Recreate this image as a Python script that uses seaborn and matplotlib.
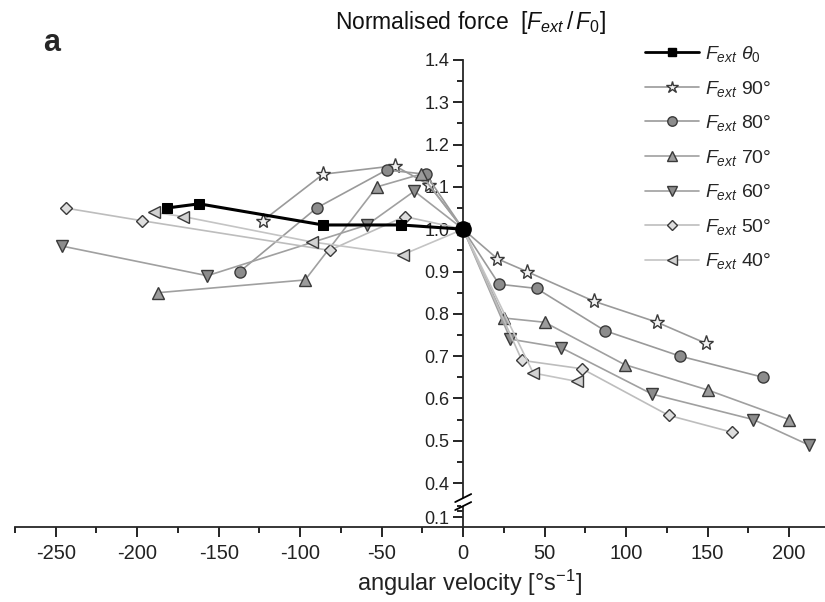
import numpy as np
import pandas as pd
import matplotlib
matplotlib.use("Agg")
import matplotlib.pyplot as plt
from matplotlib.ticker import FixedLocator, FormatStrFormatter, MultipleLocator
from matplotlib.lines import Line2D
import seaborn as sns

# ---- data: normalised force vs angular velocity ----
theta0_x = [-182, -162, -86, -38, 0]
theta0_y = [1.05, 1.06, 1.01, 1.01, 1.00]

deg90_x = [-123, -86, -42, -21, 0, 21, 39, 80, 119, 149]
deg90_y = [1.02, 1.13, 1.15, 1.105, 1.00, 0.93, 0.90, 0.83, 0.78, 0.73]

deg80_x = [-137, -90, -47, -23, 0, 22, 45, 87, 133, 184]
deg80_y = [0.90, 1.05, 1.14, 1.13, 1.00, 0.87, 0.86, 0.76, 0.70, 0.65]

deg70_x = [-187, -97, -53, -26, 0, 25, 50, 99, 150, 200]
deg70_y = [0.85, 0.88, 1.10, 1.13, 1.00, 0.79, 0.78, 0.68, 0.62, 0.55]

deg60_x = [-246, -157, -59, -30, 0, 29, 60, 116, 178, 212]
deg60_y = [0.96, 0.89, 1.01, 1.09, 1.00, 0.74, 0.72, 0.61, 0.55, 0.49]

deg50_x = [-244, -197, -82, -36, 0, 36, 73, 126, 165]
deg50_y = [1.05, 1.02, 0.95, 1.03, 1.00, 0.69, 0.67, 0.56, 0.52]

deg40_x = [-190, -172, -93, -37, 0, 43, 70]
deg40_y = [1.04, 1.03, 0.97, 0.94, 1.00, 0.66, 0.64]

origin_x = [0]
origin_y = [1.00]

series_labels = [r"$F_{\mathit{ext}}\ \theta_{\mathit{0}}$",
                 r"$F_{\mathit{ext}}\ \mathit{90°}$",
                 r"$F_{\mathit{ext}}\ \mathit{80°}$",
                 r"$F_{\mathit{ext}}\ \mathit{70°}$",
                 r"$F_{\mathit{ext}}\ \mathit{60°}$",
                 r"$F_{\mathit{ext}}\ \mathit{50°}$",
                 r"$F_{\mathit{ext}}\ \mathit{40°}$"]

x_major = [-250, -200, -150, -100, -50, 0, 50, 100, 150, 200]
y_major = [0.1, 0.4, 0.5, 0.6, 0.7, 0.8, 0.9, 1.0, 1.1, 1.2, 1.3, 1.4]
y_minor = [0.15, 0.2, 0.45, 0.55, 0.65, 0.75, 0.85, 0.95, 1.05, 1.15, 1.25, 1.35]

# ---- style ----
sns.set_theme(style="ticks")
plt.rcParams["font.family"] = ["Liberation Sans", "DejaVu Sans"]
plt.rcParams["mathtext.fontset"] = "custom"
plt.rcParams["mathtext.rm"] = "Liberation Sans"
plt.rcParams["mathtext.it"] = "Liberation Sans:italic"
plt.rcParams["mathtext.bf"] = "Liberation Sans:bold"
plt.rcParams["axes.unicode_minus"] = False

W, H = 825, 602
fig = plt.figure(figsize=(W / 100, H / 100), dpi=100)
ax = fig.add_axes([15 / W, 1 - 527 / H, 1 - 15 / W, (527 - 60) / H])

# compressed region below 0.4 (axis break)
K = 0.269


def fwd(y):
    y = np.asarray(y, dtype=float)
    return np.where(y >= 0.4, y, 0.4 - (0.4 - y) * K)


def inv(t):
    t = np.asarray(t, dtype=float)
    return np.where(t >= 0.4, t, 0.4 - (0.4 - t) / K)


ax.set_yscale("function", functions=(fwd, inv))

styles = [
    (deg90_x, deg90_y, "*", 11, "#f2f2f2", "#9a9a9a"),
    (deg80_x, deg80_y, "o", 8, "#8c8c8c", "#9a9a9a"),
    (deg70_x, deg70_y, "^", 8, "#9c9c9c", "#a0a0a0"),
    (deg60_x, deg60_y, "v", 8, "#8c8c8c", "#a0a0a0"),
    (deg50_x, deg50_y, "D", 6, "#dedede", "#bdbdbd"),
    (deg40_x, deg40_y, "<", 8, "#d2d2d2", "#c4c4c4"),
]

handles = []
for (xs, ys, mk, ms, mfc, lc), lab in zip(styles, series_labels[1:]):
    df = pd.DataFrame({"x": xs, "y": ys})
    sns.lineplot(data=df, x="x", y="y", ax=ax, color=lc, lw=1.2,
                 marker=mk, markersize=ms, markerfacecolor=mfc,
                 markeredgecolor="#3a3a3a", markeredgewidth=1.0,
                 sort=False, legend=False, zorder=3)
    handles.append(Line2D([], [], color=lc, lw=1.2, marker=mk,
                          markersize=ms * 0.85, markerfacecolor=mfc,
                          markeredgecolor="#3a3a3a", markeredgewidth=1.0,
                          label=lab))

df0 = pd.DataFrame({"x": theta0_x, "y": theta0_y})
sns.lineplot(data=df0, x="x", y="y", ax=ax, color="black", lw=2.2,
             marker="s", markersize=7, markerfacecolor="black",
             markeredgecolor="black", sort=False, legend=False, zorder=5)
handles.insert(0, Line2D([], [], color="black", lw=2.0, marker="s",
                         markersize=6, markerfacecolor="black",
                         markeredgecolor="black", label=series_labels[0]))

ax.plot(origin_x, origin_y, "o", color="black", markersize=11, zorder=6)

# ---- axes ----
ax.set_xlim(-275, 222)
ax.set_ylim(0.0134, 1.4)
for s in ("top", "right"):
    ax.spines[s].set_visible(False)
ax.spines["left"].set_position(("data", 0))
ax.spines["left"].set_linewidth(1.3)
ax.spines["bottom"].set_linewidth(1.3)
ax.spines["left"].set_zorder(2)

ax.xaxis.set_major_locator(FixedLocator(x_major))
ax.xaxis.set_minor_locator(MultipleLocator(25))
ax.yaxis.set_major_locator(FixedLocator(y_major))
ax.yaxis.set_minor_locator(FixedLocator(y_minor))
ax.yaxis.set_major_formatter(FormatStrFormatter("%.1f"))
ax.xaxis.set_major_formatter(FormatStrFormatter("%d"))
ax.tick_params(axis="both", which="major", direction="out", length=7,
               width=1.2, colors="black", labelcolor="#222222")
ax.tick_params(axis="both", which="minor", direction="out", length=4,
               width=1.2, colors="black")
ax.tick_params(axis="x", which="major", labelsize=14.5, pad=5)
ax.tick_params(axis="y", which="major", labelsize=13, pad=3)
ax.set_xlabel("angular velocity [°s$^{-1}$]", fontsize=17, color="#222222")
ax.xaxis.set_label_coords((470 - 15) / (W - 15), -0.088)
ax.set_ylabel("")
ax.grid(False)
ax.patch.set_alpha(0)

# axis break marks on the vertical axis
yb = inv(0.4 - 19 / 422.0)
bx, by = ax.transData.transform((0, float(yb)))
ax_gap = plt.Rectangle((bx - 2, by - 4), 4, 8, transform=None,
                       facecolor="white", edgecolor="none", zorder=7)
fig.patches.append(ax_gap)
for dy in (-4, 4):
    fig.lines.append(Line2D([bx - 8, bx + 8], [by + dy - 4, by + dy + 4],
                            transform=None, color="black", lw=1.3, zorder=8))

# ---- legend ----
ax.legend(handles=handles, loc="upper left",
          bbox_to_anchor=(645 / W, 1 - 44 / H), bbox_transform=fig.transFigure,
          frameon=False, fontsize=14, handlelength=2.8, handletextpad=0.3,
          labelspacing=0.75, borderpad=0, borderaxespad=0)

# ---- titles ----
fig.text(470 / W, 1 - 23 / H,
         r"Normalised force  $[F_{\mathit{ext}}\,/\,F_{\mathit{0}}]$",
         ha="center", va="center", fontsize=16.5, color="#111111")
fig.text(52 / W, 1 - 43 / H, "a", ha="center", va="center",
         fontsize=22, fontweight="bold")

fig.savefig("out.png", dpi=100)
